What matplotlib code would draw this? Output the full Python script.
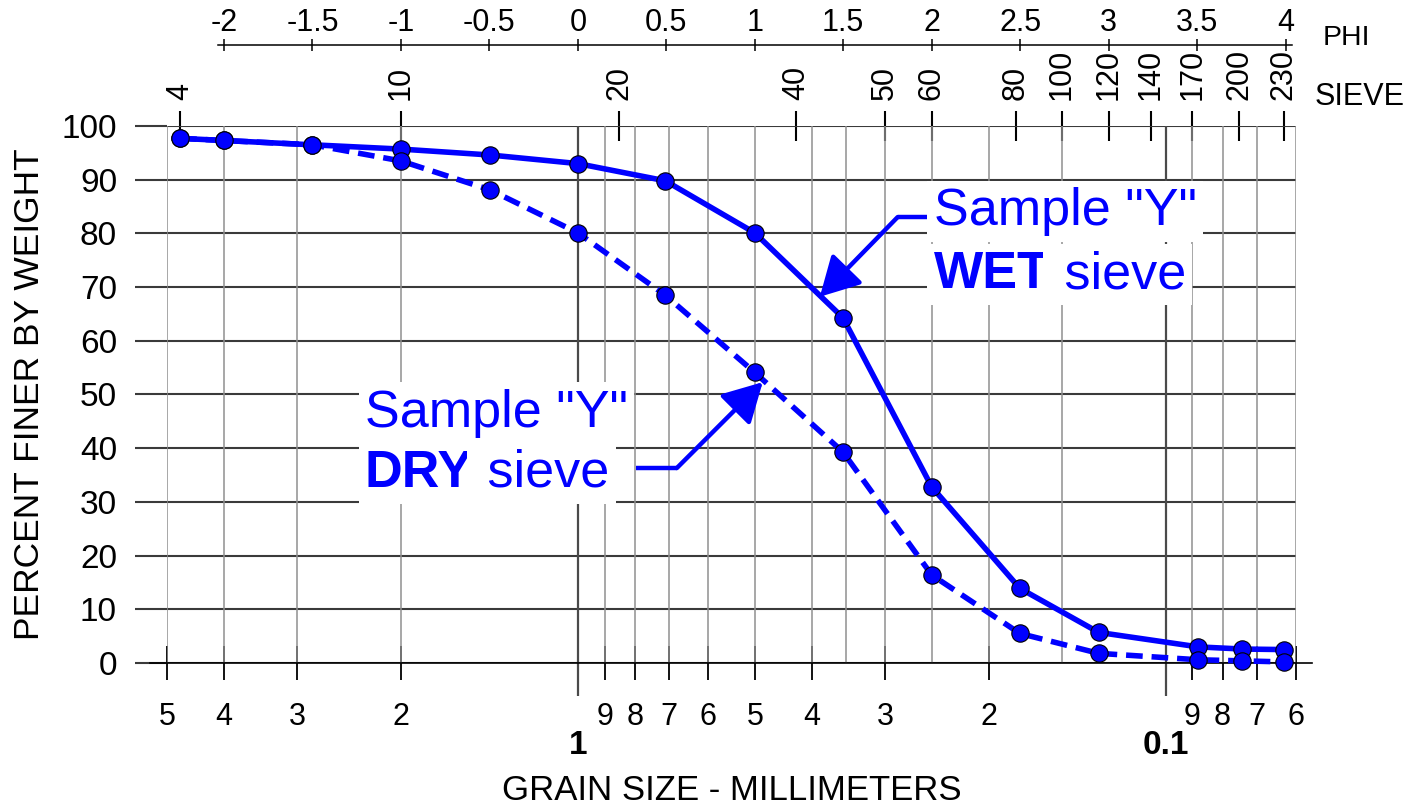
import matplotlib
matplotlib.use("Agg")
import matplotlib.pyplot as plt
import numpy as np
from matplotlib.ticker import NullLocator

plt.rcParams["font.family"] = ["Liberation Sans", "DejaVu Sans"]

# --- data --------------------------------------------------------------------
# grain size (mm) of each sieve used, and cumulative percent finer
size_mm = [4.75, 4.0, 2.83, 2.0, 1.41, 1.0, 0.71, 0.5, 0.354, 0.25, 0.177, 0.13, 0.088, 0.074, 0.063]
wet_pct = [97.7, 97.3, 96.5, 95.7, 94.6, 93.0, 89.8, 80.1, 64.3, 32.8, 13.9, 5.7, 3.0, 2.6, 2.5]
dry_pct = [97.7, 97.3, 96.5, 93.5, 88.1, 80.1, 68.5, 54.1, 39.3, 16.4, 5.5, 1.8, 0.6, 0.4, 0.2]

# top scales
sieve_no = ["4", "10", "20", "40", "50", "60", "80", "100", "120", "140", "170", "200", "230"]
sieve_mm = [4.75, 2.0, 0.85, 0.425, 0.30, 0.25, 0.18, 0.15, 0.125, 0.106, 0.09, 0.075, 0.063]
phi_ticks = [-2, -1.5, -1, -0.5, 0, 0.5, 1, 1.5, 2, 2.5, 3, 3.5, 4]
phi_labels = ["-2", "-1.5", "-1", "-0.5", "0", "0.5", "1", "1.5", "2", "2.5", "3", "3.5", "4"]

# bottom scale (mm)
mm_ticks = [5, 4, 3, 2, 0.9, 0.8, 0.7, 0.6, 0.5, 0.4, 0.3, 0.2, 0.09, 0.08, 0.07, 0.06]
mm_labels = ["5", "4", "3", "2", "9", "8", "7", "6", "5", "4", "3", "2", "9", "8", "7", "6"]
decade_ticks = [1, 0.1]
decade_labels = ["1", "0.1"]
extra_grid = [0.35, 0.25, 0.15]
pct_ticks = list(range(0, 101, 10))

BLUE = "#0000ff"
W, H = 1414, 808


def phi_to_mm(p):
    # phi = -log2(d)
    return 2.0 ** (-np.asarray(p, dtype=float))


fig = plt.figure(figsize=(W / 100, H / 100), dpi=100)
ax = fig.add_axes([167 / W, 1 - 663 / H, 1129 / W, 537 / H])
ax.set_xscale("log")
ax.set_xlim(5, 0.06)
ax.set_ylim(0, 100)
for s in ax.spines.values():
    s.set_visible(False)

# grid
ax.set_axisbelow(True)
ax.set_yticks(pct_ticks)
ax.grid(axis="y", color="#3a3a3a", lw=1.5)
for d in mm_ticks + extra_grid:
    ax.axvline(d, color="#8f8f8f", lw=1.1, zorder=1)
for d in decade_ticks:
    ax.axvline(d, color="#4a4a4a", lw=1.6, zorder=1)
ax.axhline(0, xmin=-0.015, xmax=1.014, color="black", lw=1.2, clip_on=False, zorder=2)

# bottom / left ticks
ax.set_xticks(decade_ticks, labels=decade_labels)
ax.set_xticks(mm_ticks, labels=mm_labels, minor=True)
ax.tick_params(axis="x", which="minor", direction="inout", length=24, width=1.3,
               color="black", labelsize=22, pad=16)
ax.tick_params(axis="x", which="major", direction="out", length=24, width=1.6,
               color="#4a4a4a", labelsize=24, pad=24)
for t in ax.get_xticklabels():
    t.set_fontweight("bold")
ax.tick_params(axis="y", direction="out", length=23, width=1.5, color="#3a3a3a",
               labelsize=24, pad=13)

# sieve numbers on top
sieve_ax = ax.secondary_xaxis("top")
sieve_ax.tick_params(axis="x", direction="inout", length=21.6, width=1.5,
                     labelsize=22, labelrotation=90, pad=8)
sieve_ax.set_ticks(sieve_mm, labels=sieve_no, fontsize=22, rotation=90)
sieve_ax.xaxis.set_minor_locator(NullLocator())
sieve_ax.spines["top"].set_visible(False)

# phi scale (ticks placed at the matching grain size)
phi_ax = ax.secondary_xaxis((663 - 45) / 537)
phi_ax.tick_params(axis="x", direction="inout", length=8.6, width=1.1, labelsize=22, pad=0.5)
phi_ax.set_ticks(phi_to_mm(phi_ticks), labels=phi_labels, fontsize=22)
phi_ax.xaxis.set_minor_locator(NullLocator())
phi_ax.spines["top"].set_bounds(phi_to_mm(-2.034), phi_to_mm(4.034))
phi_ax.spines["top"].set_linewidth(1.1)

fig.text(1346 / W, 1 - 38 / H, "PHI", fontsize=20.5, ha="center", va="center")
fig.text(1360 / W, 1 - 97 / H, "SIEVE", fontsize=22, ha="center", va="center")

# curves
ax.plot(size_mm, wet_pct, color=BLUE, lw=4, marker="o", ms=12.5, mfc=BLUE,
        mec="black", mew=0.8, zorder=3, clip_on=False)
ax.plot(size_mm, dry_pct, color=BLUE, lw=4, ls=(0, (3, 1.6)), marker="o", ms=12.5,
        mfc=BLUE, mec="black", mew=0.8, zorder=3.1, clip_on=False)

ax.set_xlabel("GRAIN SIZE - MILLIMETERS", fontsize=25)
ax.xaxis.set_label_coords(0.5, (663 - 790) / 537)
ax.xaxis.label.set_va("center")
ax.set_ylabel("PERCENT FINER BY WEIGHT", fontsize=25.5)
ax.yaxis.set_label_coords((30 - 167) / 1129, 0.5)
ax.yaxis.label.set_va("center")


# callouts
def callout(x, y1, y2, word, edge, bend, tip):
    box = dict(boxstyle="square,pad=0.12", fc="white", ec="none")
    ax.text(x, y1, 'Sample "Y"', fontsize=37.5, color=BLUE, ha="left", va="baseline",
            bbox=box, zorder=5)
    w = ax.text(x, y2, word, fontsize=37.5, fontweight="bold", color=BLUE, ha="left",
                va="baseline", bbox=box, zorder=5)
    ax.annotate(" sieve", xy=(1, 0), xycoords=w, fontsize=37.5, color=BLUE,
                ha="left", va="bottom", bbox=box, zorder=5)
    ax.plot([edge, bend[0]], [bend[1], bend[1]], color=BLUE, lw=3.2,
            solid_capstyle="butt", zorder=4)
    ax.annotate("", xy=tip, xytext=bend, zorder=4,
                arrowprops=dict(arrowstyle="-|>,head_length=1.0,head_width=0.55",
                                mutation_scale=24, color=BLUE, lw=3.2,
                                shrinkA=0, shrinkB=0))


callout(0.2481, 81.6, 69.8, "WET", 0.254, (0.2856, 83.05), (0.3875, 68.2))
callout(2.303, 44.0, 32.8, "DRY", 0.7967, (0.6786, 36.3), (0.4846, 52.3))

fig.savefig("out.png", dpi=100)
